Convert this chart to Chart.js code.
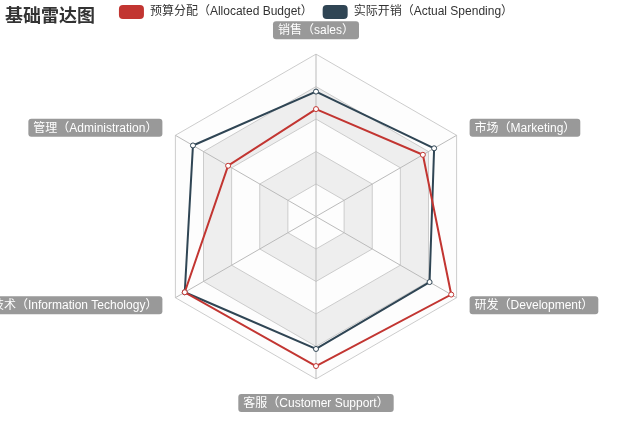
<!DOCTYPE html>
<html><head><meta charset="utf-8">
<script src="https://cdn.jsdelivr.net/npm/chart.js@4"></script>
<style>
html,body{margin:0;padding:0;background:#fff;}
#wrap{position:relative;width:632px;height:433px;}
#title{position:absolute;left:5px;top:5px;font-weight:bold;font-size:18px;font-family:'Noto Sans CJK SC',sans-serif;line-height:18px;color:#333;}
</style></head><body>
<div id="wrap"><canvas id="c"></canvas><div id="title">基础雷达图</div></div>
<script>
// Indicators in clockwise order starting from the top
const indicators = ['销售（sales）','市场（Marketing）','研发（Development）','客服（Customer Support）','信息技术（Information Techology）','管理（Administration）'];
const maxValues = [6500, 25000, 52000, 38000, 30000, 16000];
const budget = [4300, 19000, 50000, 35000, 28000, 10000];
const actual = [5000, 21000, 42000, 31000, 28000, 14000];
const seriesNames = ['预算分配（Allocated Budget）','实际开销（Actual Spending）'];
const seriesColors = ['#c23531','#2f4554'];

const norm = arr => arr.map((v, i) => v / maxValues[i]);
const FONT = '"Liberation Sans", "Noto Sans CJK SC", sans-serif';

const radarDecor = {
  id: 'radarDecor',
  beforeDraw(chart) {
    const s = chart.scales.r, ctx = chart.ctx, n = chart.data.labels.length;
    const colors = ['rgba(250,250,250,0.3)','rgba(200,200,200,0.3)'];
    ctx.save();
    for (let k = 5; k >= 1; k--) {
      ctx.beginPath();
      for (let i = 0; i < n; i++) {
        const p = s.getPointPositionForValue(i, k / 5);
        if (i) ctx.lineTo(p.x, p.y); else ctx.moveTo(p.x, p.y);
      }
      ctx.closePath();
      ctx.fillStyle = '#fff'; ctx.fill();
      ctx.fillStyle = colors[(k - 1) % 2]; ctx.fill();
    }
    ctx.restore();
  },
  afterDraw(chart) {
    const s = chart.scales.r, ctx = chart.ctx;
    ctx.save();
    ctx.font = '12px ' + FONT;
    chart.data.labels.forEach((lab, i) => {
      const p = s.getPointPosition(i, s.drawingArea + 15);
      const cos = Math.cos(p.angle), sin = Math.sin(p.angle);
      const w = ctx.measureText(lab).width + 10, h = 18;
      let x, y;
      if (Math.abs(cos) < 0.1) { x = p.x - w / 2; y = sin < 0 ? p.y - h : p.y; }
      else { x = cos > 0 ? p.x : p.x - w; y = p.y - h / 2; }
      ctx.fillStyle = '#999';
      ctx.beginPath();
      if (ctx.roundRect) ctx.roundRect(x, y, w, h, 3); else ctx.rect(x, y, w, h);
      ctx.fill();
      ctx.fillStyle = '#fff';
      ctx.textBaseline = 'middle';
      ctx.textAlign = 'left';
      ctx.fillText(lab, x + 5, y + h / 2 + 0.5);
    });
    ctx.restore();
  }
};

const mkDs = (label, data, color) => ({
  label, data: norm(data),
  borderColor: color, backgroundColor: color, fill: false,
  borderWidth: 2, tension: 0,
  pointRadius: 2.5, pointBorderWidth: 1,
  pointBackgroundColor: '#fff', pointBorderColor: color
});

new Chart(document.getElementById('c'), {
  type: 'radar',
  data: {
    labels: indicators,
    datasets: [
      mkDs(seriesNames[0], budget, seriesColors[0]),
      mkDs(seriesNames[1], actual, seriesColors[1])
    ]
  },
  options: {
    responsive: true,
    maintainAspectRatio: false,
    animation: false,
    layout: { padding: { top: -5 } },
    plugins: {
      tooltip: { enabled: false },
      title: { display: false },
      legend: {
        position: 'top',
        align: 'center',
        labels: {
          boxWidth: 25, boxHeight: 14, padding: 10,
          color: '#333',
          font: { size: 12, family: FONT },
          generateLabels(chart) {
            return chart.data.datasets.map((ds, i) => ({
              text: ds.label, fillStyle: ds.borderColor, strokeStyle: ds.borderColor,
              lineWidth: 0, hidden: !chart.isDatasetVisible(i), datasetIndex: i,
              borderRadius: 4, fontColor: '#333'
            }));
          },
          useBorderRadius: true, borderRadius: 4
        }
      }
    },
    scales: {
      r: {
        min: 0, max: 1,
        ticks: { display: false, stepSize: 0.2 },
        grid: { color: '#ccc', lineWidth: 1 },
        angleLines: { color: '#bbb', lineWidth: 1 },
        pointLabels: { display: false },
        afterFit(scale) {
          const c = scale.chart;
          scale.xCenter = c.width / 2;
          scale.yCenter = c.height / 2;
          scale.drawingArea = Math.min(c.width, c.height) / 2 * 0.75;
        }
      }
    }
  },
  plugins: [radarDecor]
});
</script>
</body></html>
